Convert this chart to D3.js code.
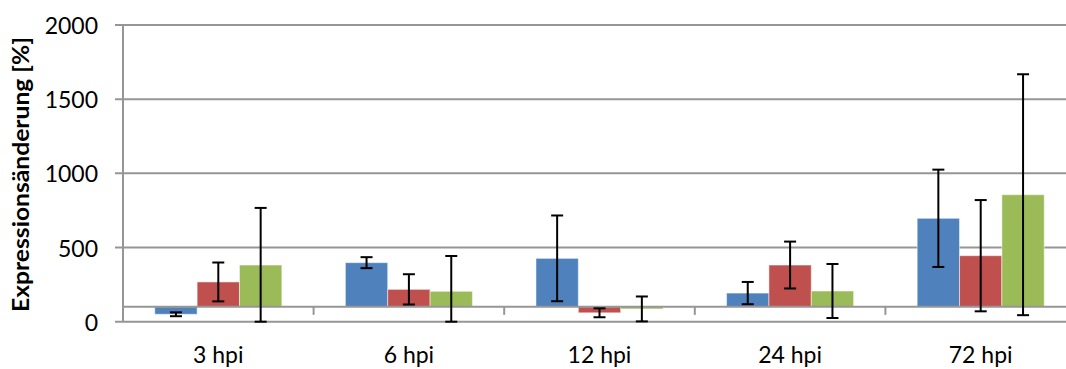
<!DOCTYPE html>
<html>
<head>
<meta charset="utf-8">
<script src="https://cdn.jsdelivr.net/npm/d3@7"></script>
<style>
  html, body { margin: 0; padding: 0; background: #fff; }
  svg { display: block; }
  text { font-family: Lato, "Open Sans", sans-serif; fill: #000; }
</style>
</head>
<body>
<svg id="chart" width="1066" height="369"></svg>
<script>
// ---- data ----
const categories = ["3 hpi", "6 hpi", "12 hpi", "24 hpi", "72 hpi"];
const seriesNames = ["Serie 1", "Serie 2", "Serie 3"];
const seriesColors = ["#4F81BD", "#C0504D", "#9BBB59"];
const values1 = [50, 398, 427, 193, 697];
const values2 = [268, 218, 60, 382, 445];
const values3 = [382, 205, 86, 207, 856];
const errors1 = [13, 37, 289, 75, 328];
const errors2 = [131, 102, 30, 158, 375];
const errors3 = [385, 238, 84, 182, 812];
const yTicks = [0, 500, 1000, 1500, 2000];
const yTitle = "Expressionsänderung [%]";
const baselineValue = 100;

const seriesValues = [values1, values2, values3];
const seriesErrors = [errors1, errors2, errors3];

// ---- layout ----
const W = 1066, H = 369;
const plotLeft = 123, plotTop = 25, plotBottom = 321.7;
const catStep = 190.6;
const plotRight = plotLeft + catStep * categories.length;

const svg = d3.select("#chart");

const y = d3.scaleLinear().domain([0, 2000]).range([plotBottom, plotTop]);
const x = d3.scaleBand().domain(categories).range([plotLeft, plotRight]).paddingInner(0).paddingOuter(0);
const xs = d3.scaleBand().domain(seriesNames).range([0, x.bandwidth()]).paddingInner(0).paddingOuter(0.75);

const gridColor = "#969696";

// gridlines
svg.append("g").selectAll("line").data(yTicks).join("line")
  .attr("x1", plotLeft - 8).attr("x2", W)
  .attr("y1", d => y(d)).attr("y2", d => y(d))
  .attr("stroke", gridColor).attr("stroke-width", 2);

// y axis line
svg.append("line")
  .attr("x1", plotLeft).attr("x2", plotLeft)
  .attr("y1", y(2000)).attr("y2", y(0))
  .attr("stroke", gridColor).attr("stroke-width", 2);

// y tick labels
svg.append("g").selectAll("text").data(yTicks).join("text")
  .attr("x", 98).attr("y", d => y(d))
  .attr("text-anchor", "end").attr("dominant-baseline", "central")
  .style("font-size", "23px")
  .text(d => d);

// bars
const flat = [];
categories.forEach((c, ci) => {
  seriesNames.forEach((s, si) => {
    flat.push({ c, s, si, v: seriesValues[si][ci], e: seriesErrors[si][ci] });
  });
});

svg.append("g").selectAll("rect").data(flat).join("rect")
  .attr("x", d => x(d.c) + xs(d.s))
  .attr("width", xs.bandwidth())
  .attr("y", d => Math.min(y(d.v), y(baselineValue)))
  .attr("height", d => Math.abs(y(d.v) - y(baselineValue)))
  .attr("fill", d => seriesColors[d.si])
  .attr("stroke", "#ffffff").attr("stroke-opacity", 0.5).attr("stroke-width", 1);

// category axis (crosses at baseline)
svg.append("line")
  .attr("x1", plotLeft).attr("x2", W)
  .attr("y1", y(baselineValue)).attr("y2", y(baselineValue))
  .attr("stroke", gridColor).attr("stroke-width", 2);
svg.append("g").selectAll("line").data(categories.slice(1)).join("line")
  .attr("x1", d => x(d)).attr("x2", d => x(d))
  .attr("y1", y(baselineValue)).attr("y2", y(baselineValue) + 8)
  .attr("stroke", gridColor).attr("stroke-width", 2);

// error bars
const capW = 12;
const eg = svg.append("g").attr("stroke", "#000").attr("stroke-width", 2);
flat.forEach(d => {
  const cx = x(d.c) + xs(d.s) + xs.bandwidth() / 2;
  const hi = Math.min(d.v + d.e, 2000);
  const lo = Math.max(d.v - d.e, 0);
  eg.append("line").attr("x1", cx).attr("x2", cx).attr("y1", y(hi)).attr("y2", y(lo));
  eg.append("line").attr("x1", cx - capW / 2).attr("x2", cx + capW / 2).attr("y1", y(hi)).attr("y2", y(hi));
  eg.append("line").attr("x1", cx - capW / 2).attr("x2", cx + capW / 2).attr("y1", y(lo)).attr("y2", y(lo));
});

// category labels
svg.append("g").selectAll("text").data(categories).join("text")
  .attr("x", d => x(d) + x.bandwidth() / 2)
  .attr("y", 363)
  .attr("text-anchor", "middle")
  .style("font-size", "23px")
  .text(d => d);

// y axis title
svg.append("text")
  .attr("transform", "translate(29,174.5) rotate(-90)")
  .attr("text-anchor", "middle")
  .attr("textLength", 275).attr("lengthAdjust", "spacingAndGlyphs")
  .style("font-size", "23px").style("font-weight", "bold")
  .text(yTitle);
</script>
</body>
</html>
